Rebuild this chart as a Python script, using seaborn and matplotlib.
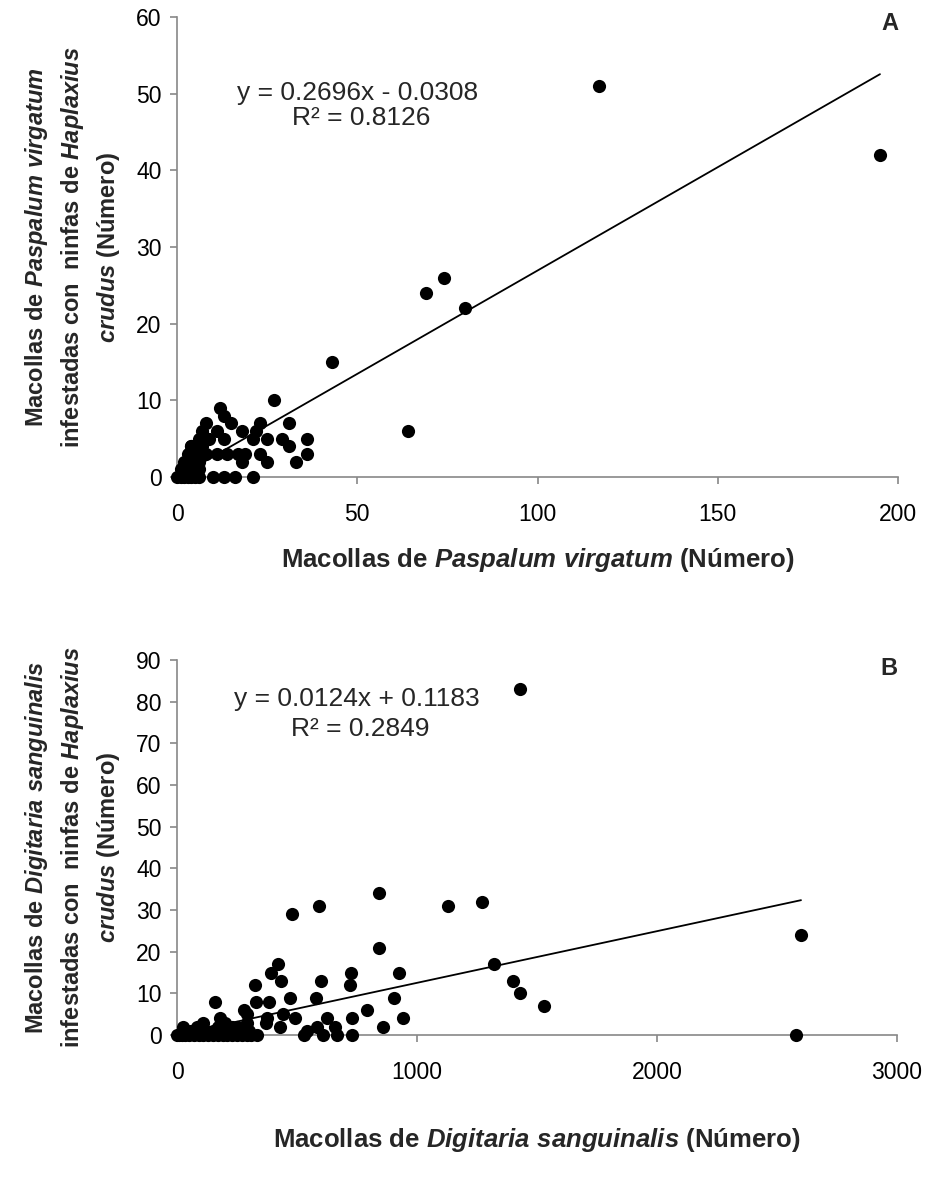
import numpy as np
import pandas as pd
import matplotlib
matplotlib.use("Agg")
import matplotlib.pyplot as plt
import seaborn as sns

sns.set_theme(style="white")
plt.rcParams['font.family'] = ['Liberation Sans', 'DejaVu Sans']
plt.rcParams['mathtext.fontset'] = 'custom'
plt.rcParams['mathtext.rm'] = 'Liberation Sans:bold'
plt.rcParams['mathtext.it'] = 'Liberation Sans:italic:bold'
plt.rcParams['mathtext.bf'] = 'Liberation Sans:bold'

# ---------------- Panel A data (Paspalum virgatum) ----------------
a_x = [0, 1, 2, 3, 4, 5, 6, 1, 2, 3, 4, 5, 2, 3, 4, 5, 6, 3, 5, 7, 7, 4, 6,
       10, 13, 16, 21,
       18, 25, 33,
       8, 11, 14, 17, 19, 23, 36,
       4, 31,
       6, 9, 13, 21, 25, 29, 36,
       7, 11, 18, 22,
       8, 15, 23, 31,
       13, 12, 27, 43,
       64, 69, 74, 80, 117, 195]
a_y = [0, 0, 0, 0, 0, 0, 0, 1, 1, 1, 1, 1, 2, 2, 2, 2, 2, 3, 3, 3, 4, 4, 1,
       0, 0, 0, 0,
       2, 2, 2,
       3, 3, 3, 3, 3, 3, 3,
       4, 4,
       5, 5, 5, 5, 5, 5, 5,
       6, 6, 6, 6,
       7, 7, 7, 7,
       8, 9, 10, 15,
       6, 24, 26, 22, 51, 42]
a_slope, a_intercept = 0.2696, -0.0308
a_eq = ["y = 0.2696x - 0.0308", "R² = 0.8126"]

# ---------------- Panel B data (Digitaria sanguinalis) ----------------
b_x = [0, 10, 20, 35, 50, 70, 90, 110, 130, 150, 170, 190, 210, 230, 250, 270,
       290, 310, 335, 530, 610, 665, 730, 2580,
       40, 60, 120, 150, 200, 260, 300, 540,
       25, 85, 170, 230, 250, 430, 585, 660, 860,
       110, 290, 370, 200,
       180, 375, 490, 625, 730, 940,
       290, 440,
       280, 790,
       1530,
       160, 330, 385,
       470, 580, 905,
       1430,
       325, 720,
       435, 600, 1400,
       390, 725, 925,
       420, 1320,
       840, 2600, 480, 590, 1130, 1270, 840, 1430]
b_y = [0, 0, 0, 0, 0, 0, 0, 0, 0, 0, 0, 0, 0, 0, 0, 0,
       0, 0, 0, 0, 0, 0, 0, 0,
       1, 1, 1, 1, 1, 1, 1, 1,
       2, 2, 2, 2, 2, 2, 2, 2, 2,
       3, 3, 3, 3,
       4, 4, 4, 4, 4, 4,
       5, 5,
       6, 6,
       7,
       8, 8, 8,
       9, 9, 9,
       10,
       12, 12,
       13, 13, 13,
       15, 15, 15,
       17, 17,
       21, 24, 29, 31, 31, 32, 34, 83]
b_slope, b_intercept = 0.0124, 0.1183
b_eq = ["y = 0.0124x + 0.1183", "R² = 0.2849"]

panels = [
    dict(x=a_x, y=a_y, slope=a_slope, icpt=a_intercept, eq=a_eq, letter="A",
         xlim=(0, 200), xticks=[0, 50, 100, 150, 200],
         ylim=(0, 60), yticks=[0, 10, 20, 30, 40, 50, 60],
         xlabel="Macollas de $\\it{Paspalum\\ virgatum}$ (Número)",
         ylabel="Macollas de $\\it{Paspalum\\ virgatum}$\ninfestadas con  ninfas de $\\it{Haplaxius}$\n$\\it{crudus}$ (Número)",
         rect=[177/933, 1 - 477/1177, (898 - 177)/933, (477 - 17)/1177],
         eqpos=(0.25, 0.835, 0.255, 0.78), letpos=(1.0, 0.985), xlabelpad=14),
    dict(x=b_x, y=b_y, slope=b_slope, icpt=b_intercept, eq=b_eq, letter="B",
         xlim=(0, 3000), xticks=[0, 1000, 2000, 3000],
         ylim=(0, 90), yticks=[0, 10, 20, 30, 40, 50, 60, 70, 80, 90],
         xlabel="Macollas de $\\it{Digitaria\\ sanguinalis}$ (Número)",
         ylabel="Macollas de $\\it{Digitaria\\ sanguinalis}$\ninfestadas con  ninfas de $\\it{Haplaxius}$\n$\\it{crudus}$ (Número)",
         rect=[177/933, 1 - 1035/1177, (897 - 177)/933, (1035 - 660)/1177],
         eqpos=(0.25, 0.895, 0.255, 0.815), letpos=(1.0, 0.978), xlabelpad=30),
]

fig = plt.figure(figsize=(9.33, 11.77), dpi=100)
gray = "#888888"

for p in panels:
    ax = fig.add_axes(p["rect"])
    df = pd.DataFrame({"x": p["x"], "y": p["y"]})
    sns.scatterplot(data=df, x="x", y="y", ax=ax, color="black", s=90,
                    linewidth=0, clip_on=False, zorder=3)
    xs = np.array([min(p["x"]), max(p["x"])], dtype=float)
    sns.lineplot(x=xs, y=p["slope"] * xs + p["icpt"], ax=ax, color="black",
                 linewidth=1.3, zorder=4)
    ax.set_xlim(*p["xlim"])
    ax.set_ylim(*p["ylim"])
    ax.set_xticks(p["xticks"])
    ax.set_yticks(p["yticks"])
    for s in ["top", "right"]:
        ax.spines[s].set_visible(False)
    for s in ["left", "bottom"]:
        ax.spines[s].set_color(gray)
        ax.spines[s].set_linewidth(1.2)
    ax.tick_params(axis="both", which="major", direction="out", length=5,
                   width=1.2, color=gray, labelsize=16.5, labelcolor="black",
                   bottom=True, left=True)
    ax.tick_params(axis="x", pad=14)
    ax.tick_params(axis="y", pad=6)
    ax.set_xlabel(p["xlabel"], fontsize=18.5, fontweight="bold",
                  labelpad=p["xlabelpad"])
    ax.set_ylabel(p["ylabel"], fontsize=17, fontweight="bold", labelpad=10,
                  linespacing=1.45)
    ax.grid(False)
    x1, y1, x2, y2 = p["eqpos"]
    ax.text(x1, y1, p["eq"][0], transform=ax.transAxes, fontsize=19,
            ha="center", va="center")
    ax.text(x2, y2, p["eq"][1], transform=ax.transAxes, fontsize=19,
            ha="center", va="center")
    ax.text(p["letpos"][0], p["letpos"][1], p["letter"], transform=ax.transAxes,
            fontsize=17, fontweight="bold", ha="right", va="center")

fig.savefig("out.png", dpi=100, facecolor="white")
